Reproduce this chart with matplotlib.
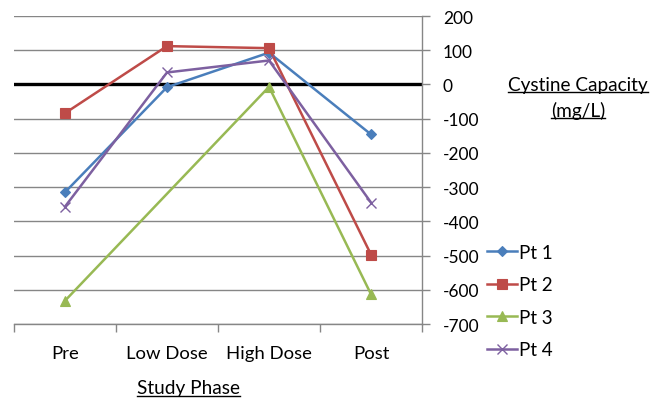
import numpy as np
import matplotlib
matplotlib.use("Agg")
import matplotlib.pyplot as plt
from matplotlib.lines import Line2D

plt.rcParams['font.family'] = ['Lato', 'DejaVu Sans']

categories = ["Pre", "Low Dose", "High Dose", "Post"]
pt1 = [-315, -8, 93, -146]
pt2 = [-84, 112, 106, -497]
pt3 = [-632, np.nan, -7, -613]
pt4 = [-357, 35, 70, -345]
series_names = ["Pt 1", "Pt 2", "Pt 3", "Pt 4"]
yticks = list(range(-700, 201, 100))

colors = ["#4A7EBB", "#BE4B48", "#98B954", "#7D60A0"]
markers = ["D", "s", "^", "x"]
msizes = [5, 7, 7, 7]

fig = plt.figure(figsize=(6.66, 4.02), dpi=100)
ax = fig.add_axes([14/666, 1-325/402, (422-14)/666, (325-17)/402])

x = np.arange(len(categories))
for vals, name, c, m, ms in zip([pt1, pt2, pt3, pt4], series_names, colors, markers, msizes):
    v = np.array(vals, dtype=float)
    mask = ~np.isnan(v)
    ax.plot(x[mask], v[mask], color=c, lw=1.8, marker=m, ms=ms,
            markeredgewidth=1.0 if m == "x" else 0.8, label=name, zorder=3)

ax.set_xlim(-0.5, 3.5)
ax.set_ylim(-700, 200)
ax.set_yticks(yticks)
ax.set_yticklabels([str(t) for t in yticks])
ax.yaxis.tick_right()
ax.tick_params(axis='y', which='major', length=6, width=1, color="#868686",
               labelsize=12.5, pad=9, direction='out')
ax.grid(axis='y', color="#868686", lw=1)
ax.set_axisbelow(True)
ax.axhline(0, color="black", lw=2.4, zorder=2)

ax.set_xticks(x)
ax.set_xticklabels(categories)
ax.set_xticks(np.arange(-0.5, 4.0, 1.0), minor=True)
ax.tick_params(axis='x', which='major', length=0, labelsize=13.3, pad=15)
ax.tick_params(axis='x', which='minor', length=6, width=1, color="#868686")

for s in ["left", "top"]:
    ax.spines[s].set_visible(False)
for s in ["right", "bottom"]:
    ax.spines[s].set_color("#868686")
    ax.spines[s].set_linewidth(1)

leg = fig.legend(loc="upper left", bbox_to_anchor=(487/666, 1-245/402), frameon=False,
                 fontsize=13.5, handlelength=1.6, handletextpad=0.1, labelspacing=0.82,
                 borderaxespad=0, borderpad=0)

t1 = fig.text(578/666, 1-85/402, "Cystine Capacity", ha="center", va="center", fontsize=13.7)
t2 = fig.text(578/666, 1-111/402, "(mg/L)", ha="center", va="center", fontsize=13.7)
t3 = fig.text(188/666, 1-389/402, "Study Phase", ha="center", va="center", fontsize=13.7)

fig.canvas.draw()
r = fig.canvas.get_renderer()
for t in (t1, t2, t3):
    bb = t.get_window_extent(renderer=r)
    y = bb.y0 + 1
    fig.add_artist(Line2D([bb.x0 / fig.bbox.width, bb.x1 / fig.bbox.width],
                          [y / fig.bbox.height, y / fig.bbox.height],
                          transform=fig.transFigure, color="black", lw=1))

fig.savefig("out.png", dpi=100)
